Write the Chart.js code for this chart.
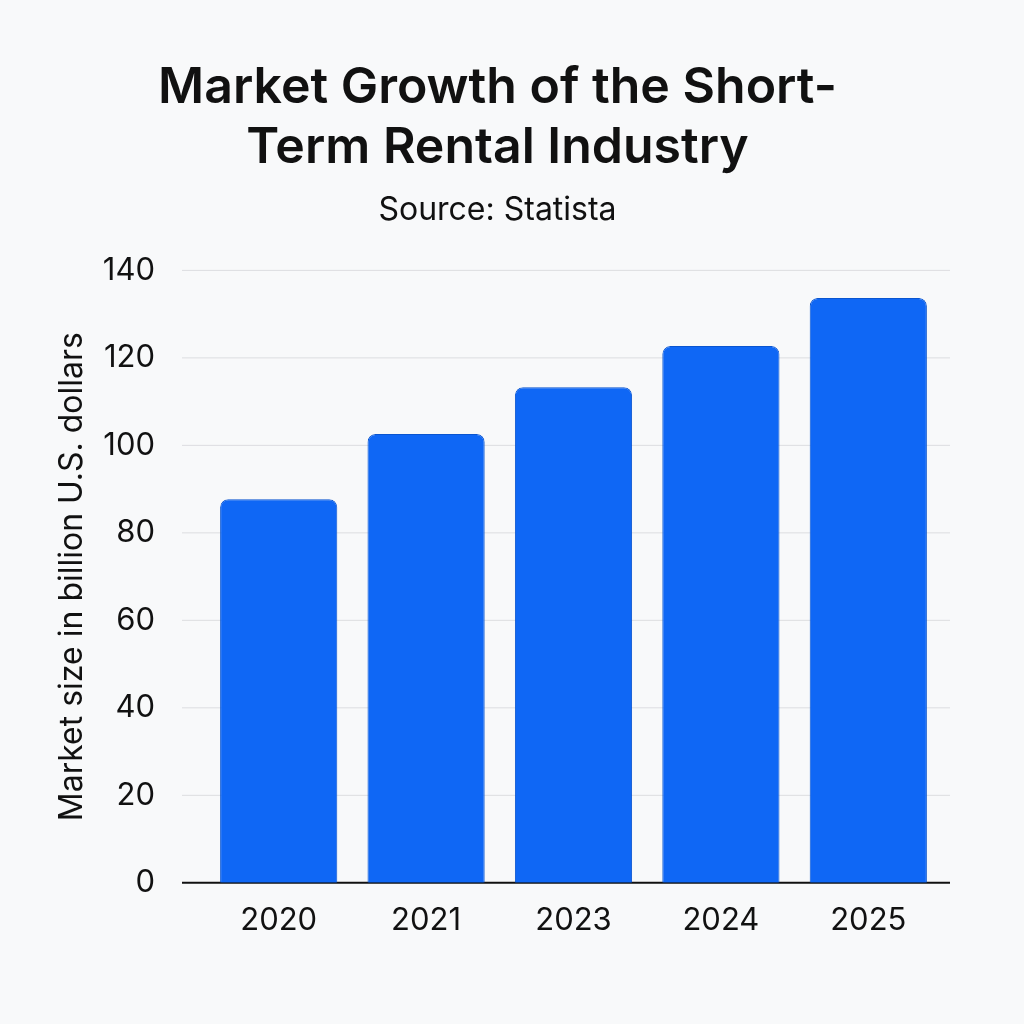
<!DOCTYPE html>
<html>
<head>
<meta charset="utf-8">
<script src="https://cdn.jsdelivr.net/npm/chart.js@4.4.1/dist/chart.umd.min.js"></script>
<style>
  html, body { margin: 0; padding: 0; background: #f8f9fa; }
  #wrap { width: 1024px; height: 1024px; }
</style>
</head>
<body>
<div id="wrap"><canvas id="chart" width="1024" height="1024"></canvas></div>
<script>
// Chart data
const years = ['2020', '2021', '2023', '2024', '2025'];
const marketSize = [87.7, 102.6, 113.3, 122.7, 133.7];
const yTicks = [0, 20, 40, 60, 80, 100, 120, 140];

const FONT = 'Inter, "Noto Sans", sans-serif';

// Grid lines and baseline run wider than the bar area, so draw them here
const wideGrid = {
    id: 'wideGrid',
    beforeDatasetsDraw(chart) {
        const { ctx, chartArea, scales } = chart;
        const left = chartArea.left - 23;
        const right = chartArea.right + 8;
        ctx.save();
        yTicks.forEach(v => {
            const y = scales.y.getPixelForValue(v);
            ctx.beginPath();
            ctx.lineWidth = v === 0 ? 2 : 1;
            ctx.strokeStyle = v === 0 ? '#111111' : '#dcdde0';
            ctx.moveTo(left, y);
            ctx.lineTo(right, y);
            ctx.stroke();
        });
        ctx.restore();
    }
};

const ctx = document.getElementById('chart').getContext('2d');
new Chart(ctx, {
    type: 'bar',
    data: {
        labels: years,
        datasets: [{
            data: marketSize,
            backgroundColor: '#0f67f5',
            borderColor: '#0a55d0',
            borderWidth: 1,
            borderRadius: 8,
            borderSkipped: 'bottom',
            barPercentage: 0.795,
            categoryPercentage: 1
        }]
    },
    options: {
        responsive: false,
        animation: false,
        layout: { padding: { top: 10, left: 53, right: 82, bottom: 66 } },
        plugins: {
            legend: { display: false },
            tooltip: { enabled: false },
            title: {
                display: true,
                text: ['Market Growth of the Short-', 'Term Rental Industry'],
                color: '#111111',
                font: { family: FONT, size: 50, weight: '600', lineHeight: 1.2 },
                padding: { top: 48, bottom: 13 }
            },
            subtitle: {
                display: true,
                text: 'Source: Statista',
                color: '#111111',
                font: { family: FONT, size: 32, weight: '400', lineHeight: 1.2 },
                padding: { top: 0, bottom: 41 }
            }
        },
        scales: {
            x: {
                grid: { display: false, drawTicks: false },
                border: { display: false },
                ticks: {
                    color: '#111111',
                    padding: 19,
                    font: { family: FONT, size: 31 }
                }
            },
            y: {
                min: 0,
                max: 140,
                afterBuildTicks(axis) {
                    axis.ticks = yTicks.map(v => ({ value: v }));
                },
                afterFit(axis) {
                    axis.width = 152;
                },
                grid: { display: false, drawTicks: false },
                border: { display: false },
                ticks: {
                    color: '#111111',
                    padding: 50,
                    font: { family: FONT, size: 31 }
                },
                title: {
                    display: true,
                    text: 'Market size in billion U.S. dollars',
                    color: '#111111',
                    font: { family: FONT, size: 32, lineHeight: 1.2 },
                    padding: { top: 0, bottom: 0 }
                }
            }
        }
    },
    plugins: [wideGrid]
});
</script>
</body>
</html>
